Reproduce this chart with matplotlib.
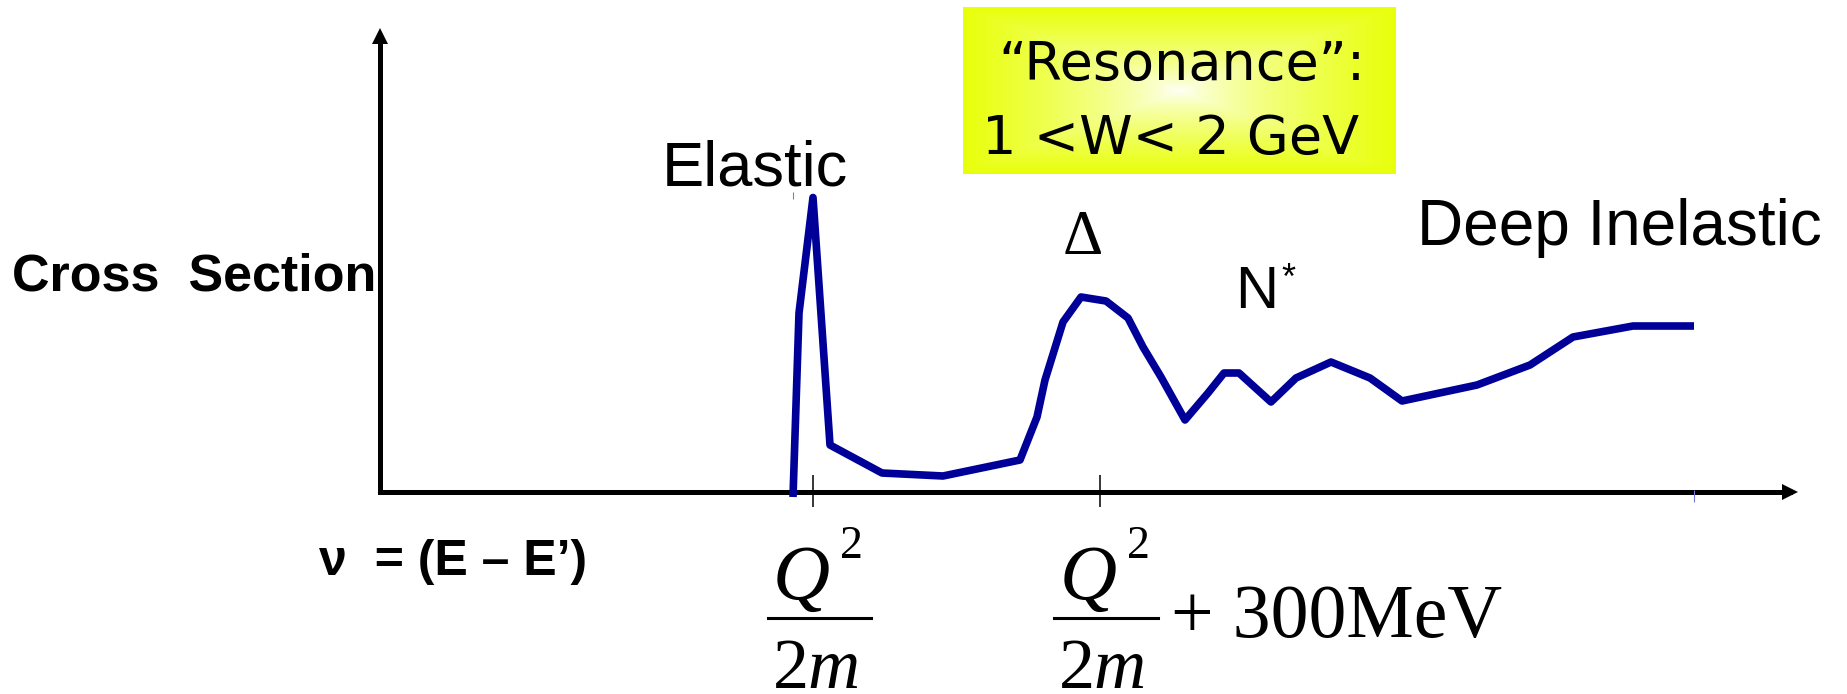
import numpy as np
import matplotlib
matplotlib.use("Agg")
import matplotlib.pyplot as plt
from matplotlib.lines import Line2D

W, H = 1847, 694

# cross section vs energy transfer (arbitrary units)
nu = [41.3, 41.9, 43.3, 45.0, 50.2, 56.3, 64.0, 65.7, 66.5, 68.3, 70.1, 72.6,
      74.8, 76.3, 78.1, 80.5, 82.8, 84.4, 85.9, 89.1, 91.6, 95.1, 99.0, 102.2,
      109.7, 115.0, 119.3, 125.3, 131.4]
sigma = [-0.5, 17.9, 29.45, 4.7, 1.9, 1.6, 3.2, 7.5, 11.2, 17.0, 19.5, 19.1,
         17.4, 14.5, 11.5, 7.2, 9.9, 11.9, 11.9, 9.0, 11.4, 13.0, 11.4, 9.1,
         10.7, 12.7, 15.5, 16.6, 16.6]
tick_nu = [43.3, 72.0]
x_max, y_max = 141.8, 46.5

box_lines = ["\u201cResonance\u201d:", "1 <W< 2 GeV"]


def fx(x):
    return x / W


def fy(y):
    return 1 - y / H


fig = plt.figure(figsize=(W / 100, H / 100), dpi=100, facecolor="white")

# resonance box with a rectangular white-to-yellow gradient
bx0, by0, bx1, by1 = 963, 7, 1395, 174
bax = fig.add_axes([fx(bx0), fy(by1), (bx1 - bx0) / W, (by1 - by0) / H])
gx = np.abs(np.linspace(-1, 1, bx1 - bx0))[None, :]
gy = np.abs(np.linspace(-1, 1, by1 - by0))[:, None]
t = np.clip(np.maximum(gx, gy), 0, 1) ** 0.7
edge = np.array([232, 255, 10]) / 255.0
img = (1 - t[..., None]) * np.ones(3) + t[..., None] * edge
bax.imshow(img, aspect="auto", interpolation="bilinear")
bax.axis("off")

ax = fig.add_axes([fx(380), fy(492), 1418 / W, 465 / H])
ax.set_xlim(0, x_max)
ax.set_ylim(0, y_max)
ax.axis("off")

# axes with arrow heads
ax.plot([0, x_max - 0.85], [0, 0], color="k", lw=3.6,
        solid_capstyle="projecting", clip_on=False)
ax.plot([0, 0], [0, y_max - 0.85], color="k", lw=3.6,
        solid_capstyle="projecting", clip_on=False)
ax.plot(x_max - 0.85, 0, marker=">", ms=12.2, mew=0, color="k", clip_on=False)
ax.plot(0, y_max - 0.85, marker="^", ms=12.2, mew=0, color="k", clip_on=False)
ax.vlines(tick_nu, -1.5, 1.7, color="k", lw=1.1, clip_on=False)

ax.plot(nu, sigma, color="#000099", lw=5.5, solid_joinstyle="round",
        solid_capstyle="butt", clip_on=False)
ax.vlines([nu[0], nu[-1]], [29.3, -1.0], [30.0, 0.2], color="#7777dd",
          lw=0.8, clip_on=False)

sans = "Liberation Sans"
serif = "Liberation Serif"

fig.text(fx(12), fy(291), "Cross  Section", family=sans, weight="bold",
         fontsize=37.5, va="baseline", ha="left")
fig.text(fx(319), fy(575), "\u03bd  = (E \u2013 E\u2019)", family=sans,
         weight="bold", fontsize=36, va="baseline", ha="left")
fig.text(fx(662), fy(185), "Elastic", family=sans, fontsize=45.5,
         va="baseline", ha="left")
fig.text(fx(1417), fy(245), "Deep Inelastic", family=sans, fontsize=46,
         va="baseline", ha="left")
fig.text(fx(1083), fy(254), "\u0394", family=serif, fontsize=45,
         va="baseline", ha="center")
fig.text(fx(1235), fy(308), "N", family=sans, fontsize=43,
         va="baseline", ha="left")
fig.text(fx(1281), fy(262), "*", family=sans, fontsize=26,
         va="top", ha="left")

fig.text(fx(998), fy(80), box_lines[0], family="DejaVu Sans", fontsize=39,
         va="baseline", ha="left")
fig.text(fx(982), fy(154), box_lines[1], family="DejaVu Sans", fontsize=39,
         va="baseline", ha="left")

# Q^2 / 2m labels under the ticks
for cx, bar in [(801, (768, 871)), (1088, (1054, 1158))]:
    fig.text(fx(cx), fy(599), "Q", family=serif, style="italic", fontsize=57,
             va="baseline", ha="center")
    fig.text(fx(cx + 39), fy(558), "2", family=serif, fontsize=33,
             va="baseline", ha="left")
    fig.add_artist(Line2D([fx(bar[0]), fx(bar[1])], [fy(618), fy(618)],
                          color="k", lw=2.2))
    left = bar[0] + 5
    fig.text(fx(left), fy(688), "2", family=serif, fontsize=52,
             va="baseline", ha="left")
    fig.text(fx(left + 34), fy(688), "m", family=serif, style="italic",
             fontsize=52, va="baseline", ha="left")
fig.text(fx(1171), fy(637), "+ 300MeV", family=serif, fontsize=54.5,
         va="baseline", ha="left")

fig.savefig("out.png", dpi=100, facecolor="white")
